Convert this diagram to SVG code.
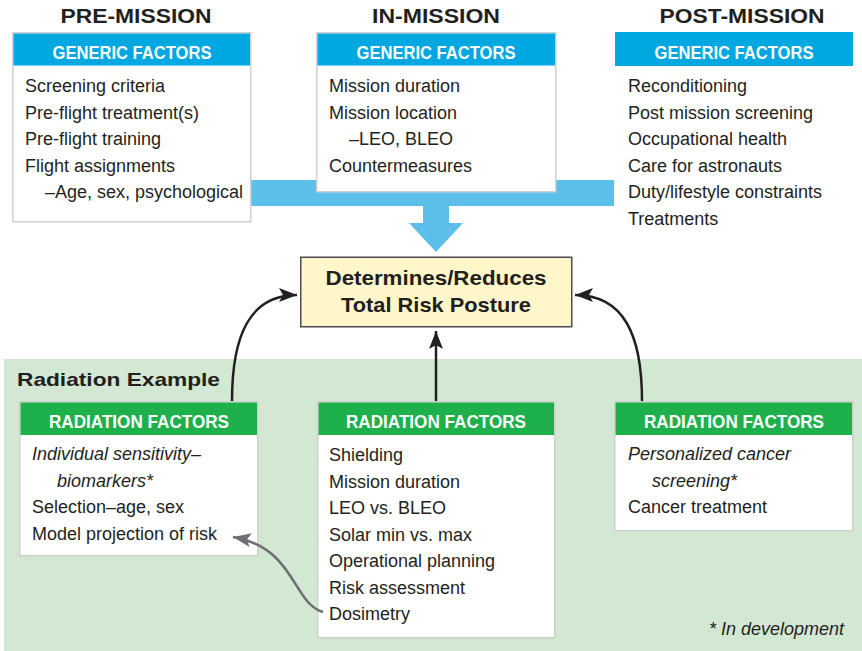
<svg xmlns="http://www.w3.org/2000/svg" width="862" height="651" viewBox="0 0 862 651">
<defs>
<style>
.t{font-family:"Liberation Sans",Arial,sans-serif;font-size:18px;fill:#231f20}
.i{font-style:italic}
.hd{font-family:"Liberation Sans",Arial,sans-serif;font-size:18px;font-weight:bold;fill:#fff;text-anchor:middle}
.ti{font-family:"Liberation Sans",Arial,sans-serif;font-size:21px;font-weight:bold;fill:#231f20;text-anchor:middle}
.box{fill:#fff;stroke:#cfcfcf;stroke-width:1.5}
.bh{fill:#00a8e2}
.gh{fill:#1db04b}
.con{fill:none;stroke:#231f20;stroke-width:2.5}
</style>
<marker id="ah" markerUnits="userSpaceOnUse" markerWidth="20" markerHeight="16" refX="18" refY="7" orient="auto"><path d="M0,0 L18,7 L0,14 L4,7 Z" fill="#231f20"/></marker>
<marker id="ag" markerUnits="userSpaceOnUse" markerWidth="20" markerHeight="16" refX="18" refY="7" orient="auto"><path d="M0,0 L18,7 L0,14 L4,7 Z" fill="#6d6e71"/></marker>
</defs>
<rect width="862" height="651" fill="#fff"/>
<rect x="4" y="359" width="858" height="292" fill="#d3e8d3"/>
<g id="band">
<rect x="240" y="180" width="374" height="26" fill="#5bbfea"/>
<rect x="423" y="205" width="26" height="19" fill="#5bbfea"/>
<polygon points="409,223 463,223 436,252" fill="#5bbfea"/>
</g>
<g id="titles">
<text class="ti" x="136" y="23" textLength="151" lengthAdjust="spacingAndGlyphs">PRE-MISSION</text>
<text class="ti" x="436" y="23" textLength="128" lengthAdjust="spacingAndGlyphs">IN-MISSION</text>
<text class="ti" x="742" y="23" textLength="165" lengthAdjust="spacingAndGlyphs">POST-MISSION</text>
</g>
<g id="pre">
<rect class="box" x="12.75" y="32.75" width="238" height="189"/>
<rect class="bh" x="13.5" y="33.5" width="236.5" height="32"/>
<text class="hd" x="132" y="59" textLength="159" lengthAdjust="spacingAndGlyphs">GENERIC FACTORS</text>
<text class="t" x="25" y="92">Screening criteria</text>
<text class="t" x="25" y="118.5">Pre-flight treatment(s)</text>
<text class="t" x="25" y="145">Pre-flight training</text>
<text class="t" x="25" y="171.5">Flight assignments</text>
<text class="t" x="45" y="198">–Age, sex, psychological</text>
</g>
<g id="in">
<rect class="box" x="316.75" y="32.75" width="239" height="159"/>
<rect class="bh" x="317.5" y="33.5" width="237.5" height="32"/>
<text class="hd" x="436" y="59" textLength="159" lengthAdjust="spacingAndGlyphs">GENERIC FACTORS</text>
<text class="t" x="329" y="92">Mission duration</text>
<text class="t" x="329" y="118.5">Mission location</text>
<text class="t" x="349" y="145">–LEO, BLEO</text>
<text class="t" x="329" y="171.5">Countermeasures</text>
</g>
<g id="post">
<rect class="bh" x="615" y="32" width="238" height="34"/>
<text class="hd" x="734" y="59" textLength="159" lengthAdjust="spacingAndGlyphs">GENERIC FACTORS</text>
<text class="t" x="628" y="92">Reconditioning</text>
<text class="t" x="628" y="118.5">Post mission screening</text>
<text class="t" x="628" y="145">Occupational health</text>
<text class="t" x="628" y="171.5">Care for astronauts</text>
<text class="t" x="628" y="198">Duty/lifestyle constraints</text>
<text class="t" x="628" y="224.5">Treatments</text>
</g>
<g id="total">
<rect x="300.75" y="257.25" width="271" height="69.5" fill="#fff6c9" stroke="#4d4d4f" stroke-width="1.5"/>
<text class="ti" x="436" y="285" font-size="20" textLength="221" lengthAdjust="spacingAndGlyphs">Determines/Reduces</text>
<text class="ti" x="436" y="312" font-size="20" textLength="190" lengthAdjust="spacingAndGlyphs">Total Risk Posture</text>
</g>
<text x="17" y="386" font-family="Liberation Sans, Arial, sans-serif" font-size="19" font-weight="bold" fill="#231f20" textLength="203" lengthAdjust="spacingAndGlyphs">Radiation Example</text>
<g id="rad-left">
<rect class="box" x="19.75" y="401.75" width="238" height="154"/>
<rect class="gh" x="20.5" y="402.5" width="236.5" height="32.5"/>
<text class="hd" x="139" y="428" textLength="180" lengthAdjust="spacingAndGlyphs">RADIATION FACTORS</text>
<text class="t i" x="32" y="460">Individual sensitivity–</text>
<text class="t i" x="57" y="486.5">biomarkers*</text>
<text class="t" x="32" y="513">Selection–age, sex</text>
<text class="t" x="32" y="539.5">Model projection of risk</text>
</g>
<g id="rad-mid">
<rect class="box" x="317.75" y="401.75" width="237" height="236"/>
<rect class="gh" x="318.5" y="402.5" width="235.5" height="32.5"/>
<text class="hd" x="436" y="428" textLength="180" lengthAdjust="spacingAndGlyphs">RADIATION FACTORS</text>
<text class="t" x="329" y="461">Shielding</text>
<text class="t" x="329" y="487.5">Mission duration</text>
<text class="t" x="329" y="514">LEO vs. BLEO</text>
<text class="t" x="329" y="540.5">Solar min vs. max</text>
<text class="t" x="329" y="567">Operational planning</text>
<text class="t" x="329" y="593.5">Risk assessment</text>
<text class="t" x="329" y="620">Dosimetry</text>
</g>
<g id="rad-right">
<rect class="box" x="614.75" y="401.75" width="238" height="129"/>
<rect class="gh" x="615.5" y="402.5" width="236.5" height="32.5"/>
<text class="hd" x="734" y="428" textLength="180" lengthAdjust="spacingAndGlyphs">RADIATION FACTORS</text>
<text class="t i" x="628" y="460">Personalized cancer</text>
<text class="t i" x="652" y="486.5">screening*</text>
<text class="t" x="628" y="513">Cancer treatment</text>
</g>
<text class="t i" x="709" y="635">* In development</text>
<g id="connectors">
<path class="con" d="M232,401 C232,335 250,295 297,295" marker-end="url(#ah)"/>
<path class="con" d="M642,401 C642,335 624,295 575,295" marker-end="url(#ah)"/>
<path class="con" d="M436,401 L436,331" marker-end="url(#ah)"/>
<path d="M323,612 C292,603 296,548 233,537" fill="none" stroke="#6d6e71" stroke-width="2.5" marker-end="url(#ag)"/>
</g>
</svg>
